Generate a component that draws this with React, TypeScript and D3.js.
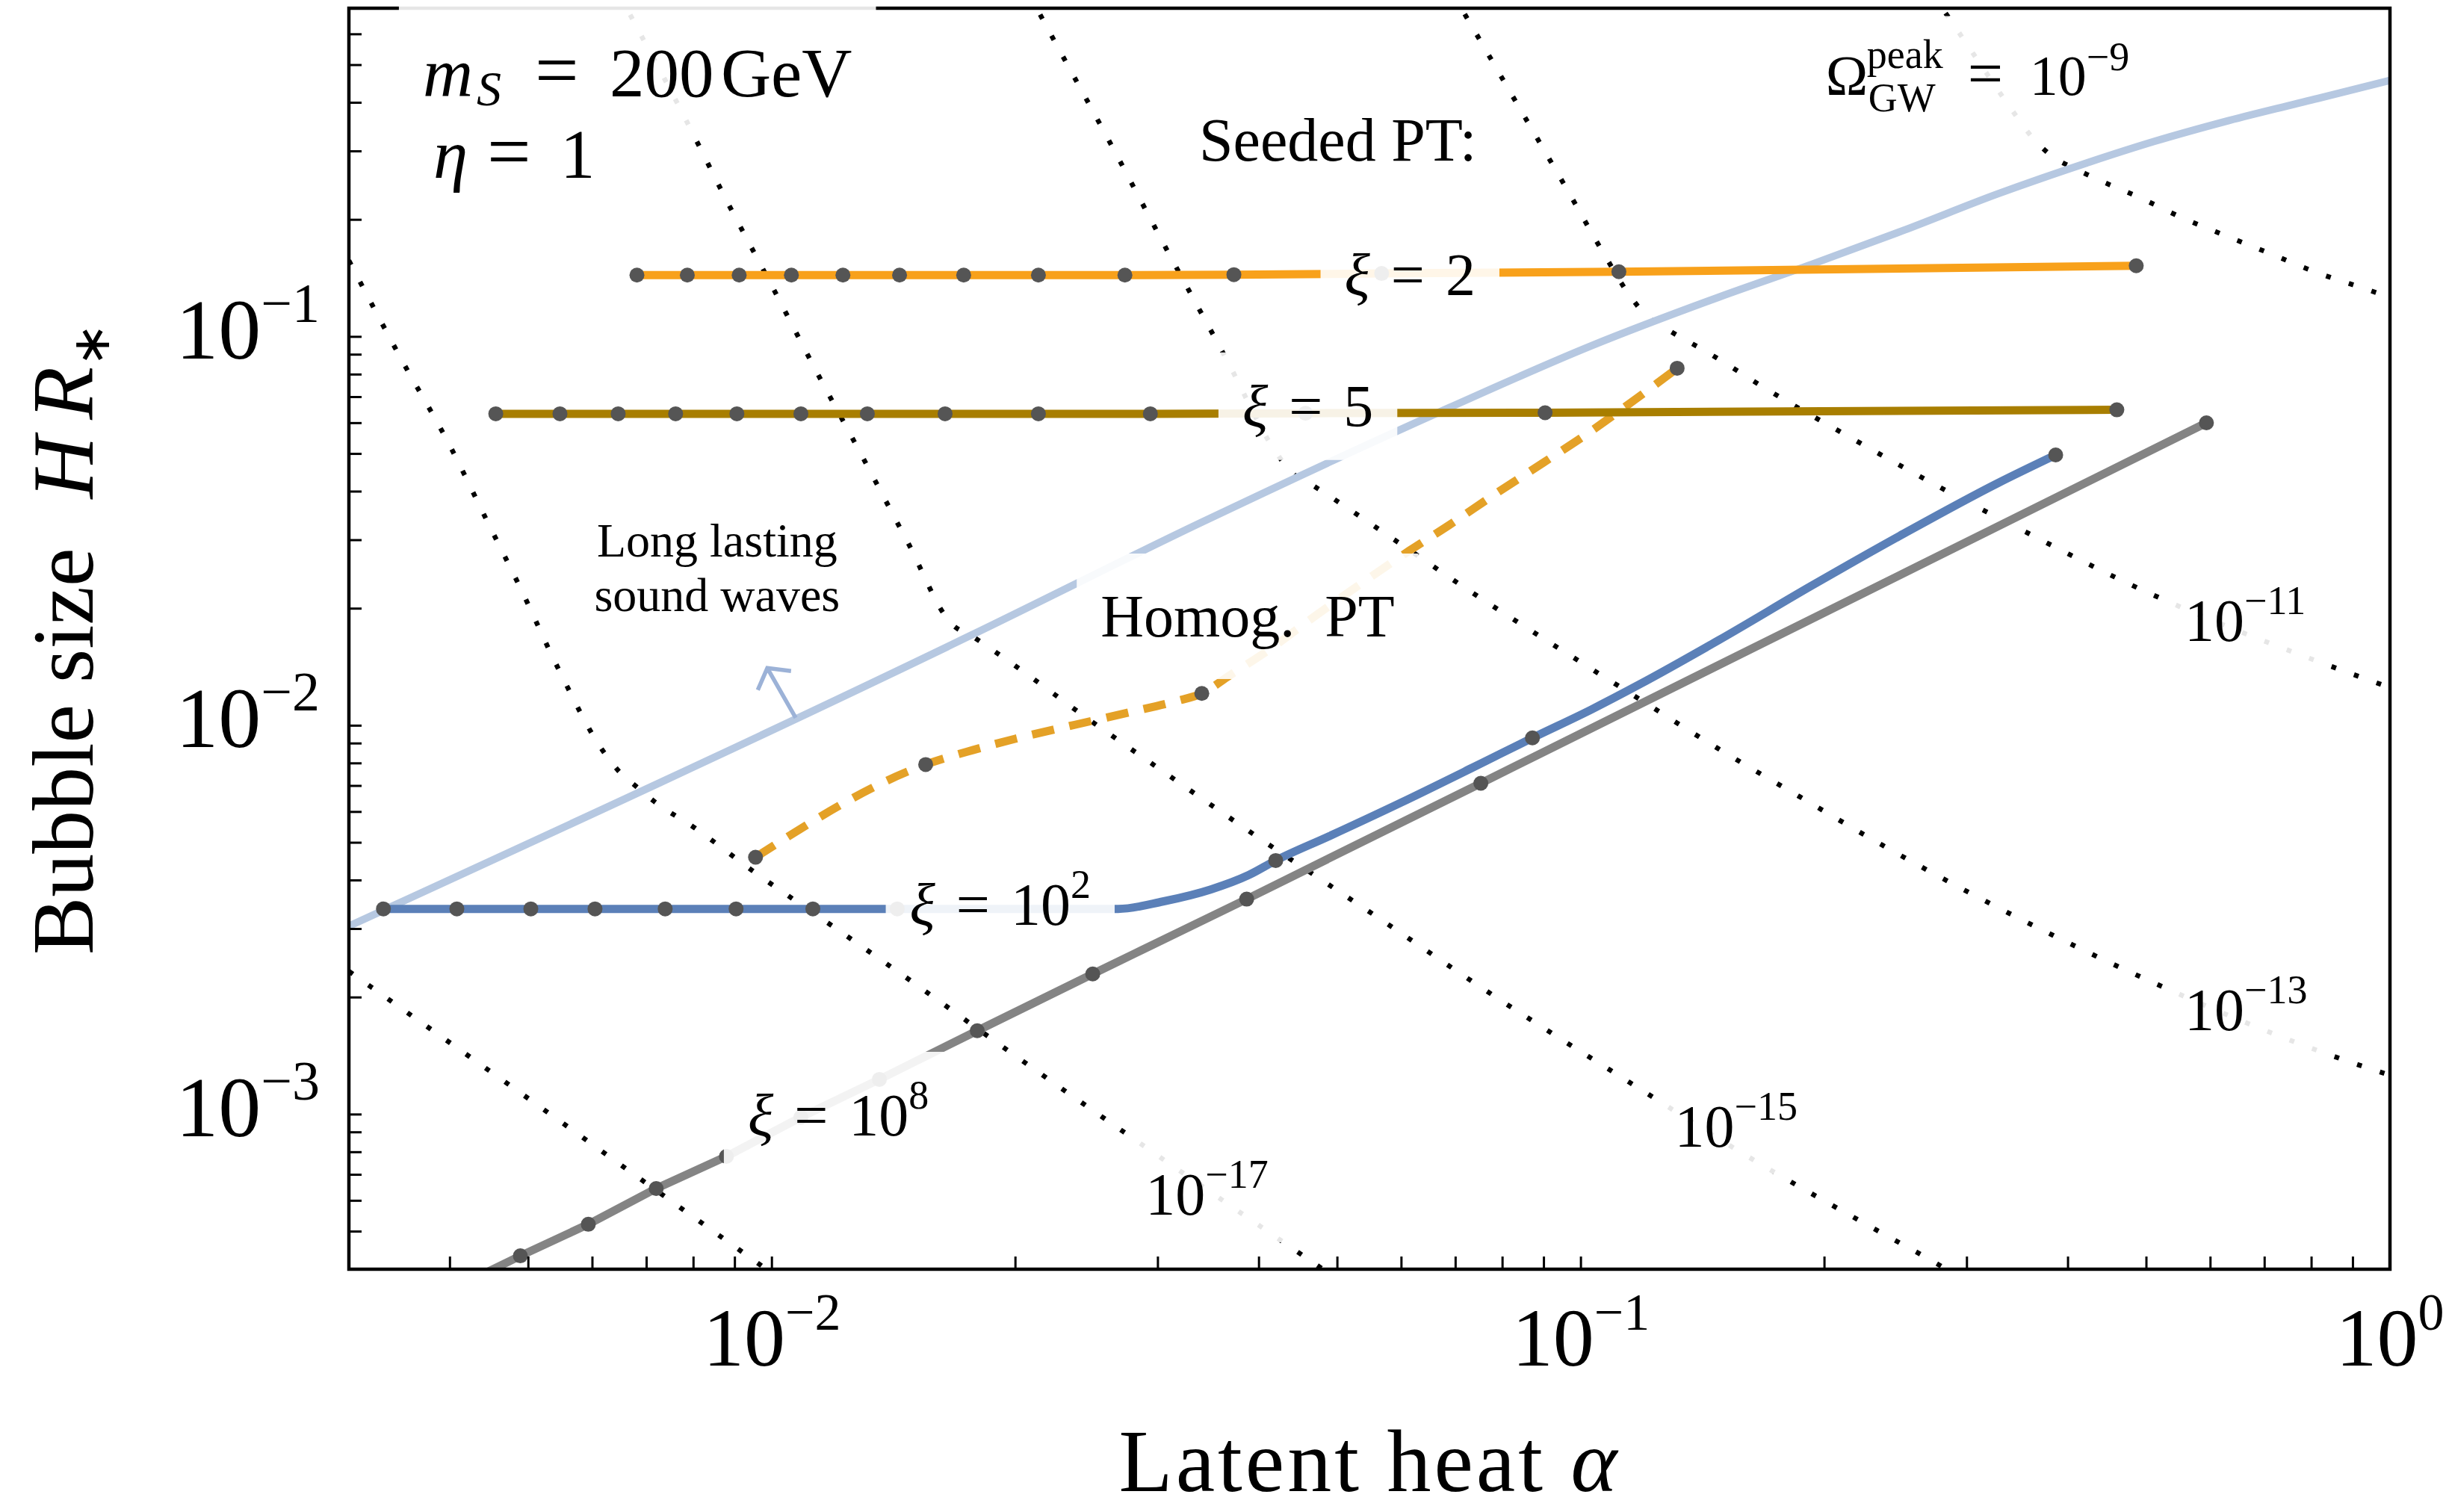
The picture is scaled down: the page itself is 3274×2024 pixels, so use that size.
import { useLayoutEffect, useRef, useState } from 'react'
import * as d3 from 'd3'

// axes ranges (log-log)
const alphaDomain = [0.003, 1]
const sizeDomain = [4e-4, 0.7]

const xLabelTicks = [0.01, 0.1, 1]
const xLabelExps = ['−2', '−1', '0']
const yLabelTicks = [1e-3, 1e-2, 1e-1]
const yLabelExps = ['−3', '−2', '−1']

// seeded PT, xi = 2 : [alpha, H R*], every point has a marker
const xi2 = [
  [0.00681, 0.1441], [0.00786, 0.1441], [0.00911, 0.1441], [0.01057, 0.1441],
  [0.01224, 0.1441], [0.01438, 0.1441], [0.01726, 0.1441], [0.02135, 0.1441],
  [0.02731, 0.1441], [0.03724, 0.1445], [0.05671, 0.1455], [0.1114, 0.147],
  [0.4857, 0.1523],
]

// seeded PT, xi = 5
const xi5 = [
  [0.004557, 0.0634], [0.00547, 0.0634], [0.006456, 0.0634], [0.007603, 0.0634],
  [0.009051, 0.0634], [0.01086, 0.0634], [0.01312, 0.0634], [0.01637, 0.0634],
  [0.02135, 0.0634], [0.02936, 0.0634], [0.04566, 0.0636], [0.0903, 0.0638],
  [0.4596, 0.0649],
]

// seeded PT, xi = 10^2
const xi100Marks = [
  [0.00331, 0.003379], [0.004079, 0.003379], [0.005035, 0.003379], [0.006044, 0.003379],
  [0.00738, 0.003379], [0.00903, 0.003379], [0.011236, 0.003379], [0.014285, 0.003379],
  [0.04195, 0.0045], [0.0871, 0.0093], [0.3862, 0.04968],
]
const xi100Curve = [
  [0.00331, 0.003379], [0.014285, 0.003379], [0.02679, 0.003379], [0.03043, 0.00353],
  [0.03486, 0.00379], [0.03886, 0.00413], [0.04195, 0.0045], [0.04888, 0.0052],
  [0.05993, 0.00634], [0.07347, 0.0078], [0.0871, 0.0093], [0.103, 0.011],
  [0.118, 0.01275], [0.1481, 0.0166], [0.1928, 0.0229], [0.2508, 0.0312],
  [0.3272, 0.042], [0.3862, 0.04968],
]

// seeded PT, xi = 10^8
const xi1e8Marks = [
  [0.004887, 0.000433], [0.00593, 0.000522], [0.007194, 0.000645], [0.008785, 0.00078],
  [0.01086, 0.000984], [0.013578, 0.001231], [0.01794, 0.001642], [0.02492, 0.002298],
  [0.03862, 0.00358], [0.07521, 0.00711], [0.5931, 0.0601],
]
const xi1e8Start = [0.004, 0.000353]

// homogeneous PT (dashed)
const homogMarks = [
  [0.009544, 0.004587], [0.01549, 0.007943], [0.03399, 0.0121], [0.1315, 0.08302],
]
const homogCurve = [
  [0.009544, 0.004587], [0.01549, 0.007943], [0.01771, 0.00865], [0.01998, 0.00925],
  [0.02368, 0.01005], [0.02766, 0.01082], [0.03169, 0.01158], [0.03399, 0.0121],
  [0.03677, 0.01345], [0.04097, 0.01557], [0.04694, 0.01915], [0.05448, 0.02381],
  [0.06136, 0.02818], [0.06868, 0.03277], [0.07866, 0.03963], [0.08992, 0.04751],
  [0.1017, 0.05623], [0.1163, 0.06865], [0.1315, 0.08302],
]

// boundary of long lasting sound waves
const longLasting = [
  [0.003, 0.003052], [0.01763, 0.01708], [0.03384, 0.03321], [0.06868, 0.06568],
  [0.103, 0.09482], [0.1481, 0.1265], [0.1928, 0.1536], [0.2508, 0.188],
  [0.3272, 0.233], [0.4257, 0.2818], [0.5122, 0.3185], [0.6322, 0.36],
  [0.8225, 0.4124], [1.0, 0.4567],
]
const arrowFrom = [0.0107, 0.01048]
const arrowTo = [0.00987, 0.01406]

// Omega_GW^peak contours
const omega9 = [
  [0.2715, 0.7634], [0.2869, 0.6479], [0.3102, 0.5101], [0.3356, 0.4017], [0.3645, 0.319],
  [0.3828, 0.2907], [0.408, 0.2708], [0.4321, 0.2557], [0.4909, 0.2279], [0.5541, 0.2022],
  [0.6306, 0.181], [0.7164, 0.1627], [0.8121, 0.1463], [0.9264, 0.1334], [1.0235, 0.1242],
]
const omega11 = [
  [0.0694, 0.7634], [0.0727, 0.6479], [0.08384, 0.3896], [0.09625, 0.2381], [0.107, 0.1621],
  [0.1151, 0.127], [0.1203, 0.1137], [0.1274, 0.105], [0.1435, 0.0911], [0.1708, 0.07272],
  [0.2172, 0.05452], [0.2754, 0.04143], [0.3606, 0.03093], [0.4604, 0.02392],
  [0.8673, 0.01394], [1.0235, 0.01232],
]
const omega13 = [
  [0.02077, 0.7634], [0.02185, 0.6283], [0.02635, 0.3079], [0.03096, 0.1635], [0.03646, 0.08757],
  [0.04184, 0.05101], [0.04385, 0.04486], [0.04634, 0.04181], [0.05817, 0.03052],
  [0.07287, 0.0222], [0.09185, 0.01628], [0.1163, 0.01194], [0.1469, 0.008795],
  [0.1863, 0.006568], [0.2359, 0.004926], [0.3005, 0.003741], [0.3828, 0.002893],
  [0.4918, 0.002259], [0.8673, 0.001393], [1.0235, 0.001242],
]
const omega15 = [
  [0.006471, 0.7634], [0.00661, 0.7018], [0.00778, 0.3708], [0.008802, 0.2229], [0.01, 0.1351],
  [0.01136, 0.0812], [0.01296, 0.04882], [0.01469, 0.02985], [0.01668, 0.01826],
  [0.01771, 0.01694], [0.01887, 0.0155], [0.02108, 0.01316], [0.02353, 0.01112],
  [0.02942, 0.008013], [0.03936, 0.005262], [0.05564, 0.003248], [0.078, 0.002021],
  [0.1148, 0.00121], [0.1631, 0.000766], [0.2324, 0.000503], [0.2778, 0.000409],
  [0.3049, 0.000363],
]
const omega17 = [
  [0.003, 0.1571], [0.003487, 0.08718], [0.003987, 0.05309], [0.004472, 0.03277],
  [0.004898, 0.02239], [0.005434, 0.01413], [0.006175, 0.008642], [0.006457, 0.007665],
  [0.006808, 0.006955], [0.007148, 0.006393], [0.008035, 0.005451], [0.009463, 0.004234],
  [0.01188, 0.003052], [0.01488, 0.0022], [0.0192, 0.001503], [0.02265, 0.001178],
  [0.02838, 0.000849], [0.04211, 0.0004817], [0.05122, 0.0003642],
]
const omega19 = [
  [0.003, 0.002335], [0.004887, 0.001137], [0.00749, 0.0006009], [0.009874, 0.000398],
  [0.01064, 0.000356],
]
const contours = [omega9, omega11, omega13, omega15, omega17, omega19]

const contourLabelExps = ['−11', '−13', '−15', '−17']
const contourLabelAt = [[0.6622, 0.01851], [0.6637, 0.001851], [0.1555, 0.000928], [0.03449, 0.00062]]

const xiLabelMain = ['2', '5', '10', '10']
const xiLabelSup = ['', '', '2', '8']
const xiLabelAt = [[0.06147, 0.1444], [0.04597, 0.0663], [0.01915, 0.00347], [0.01208, 0.000995]]

const serif = '"Liberation Serif", "Times New Roman", serif'

function Boxed({ children, padX = 32, padY = 28 }: any) {
  const ref = useRef<SVGGElement>(null)
  const [box, setBox] = useState<any>(null)
  useLayoutEffect(() => {
    if (ref.current) {
      const b = ref.current.getBBox()
      setBox({ x: b.x, y: b.y, w: b.width, h: b.height })
    }
  }, [])
  return (
    <g>
      {box && (
        <rect x={box.x - padX} y={box.y - padY} width={box.w + 2 * padX} height={box.h + 2 * padY}
          fill="#fff" fillOpacity={0.9} />
      )}
      <g ref={ref}>{children}</g>
    </g>
  )
}

function App() {
  const width = 3274
  const height = 2024
  const left = 467
  const right = 3199
  const top = 11
  const bottom = 1699

  const x = d3.scaleLog().domain(alphaDomain).range([left, right])
  const y = d3.scaleLog().domain(sizeDomain).range([bottom, top])
  const straight = d3.line<number[]>().x(d => x(d[0])).y(d => y(d[1]))
  const smooth = d3.line<number[]>().x(d => x(d[0])).y(d => y(d[1])).curve(d3.curveMonotoneX)

  const xTicks = x.ticks().filter(v => x(v) > left + 2 && x(v) < right - 2)
  const yTicks = y.ticks().filter(v => y(v) < bottom - 2 && y(v) > top + 2)
  const tickLen = 17

  const fx = (f: number) => left + f * (right - left)
  const fy = (f: number) => top + f * (bottom - top)

  // arrow from the boundary line
  const ax0 = x(arrowFrom[0]), ay0 = y(arrowFrom[1])
  const ax1 = x(arrowTo[0]), ay1 = y(arrowTo[1])
  const back = Math.atan2(ay0 - ay1, ax0 - ax1)
  const head = 32
  const spread = 0.93
  const arrowPath = `M${ax0},${ay0}L${ax1},${ay1}` +
    `M${ax1 + head * Math.cos(back + spread)},${ay1 + head * Math.sin(back + spread)}` +
    `L${ax1},${ay1}L${ax1 + head * Math.cos(back - spread)},${ay1 + head * Math.sin(back - spread)}`

  const xi1e8Curve = [xi1e8Start, ...xi1e8Marks]
  const marks = [...xi2, ...xi5, ...xi100Marks, ...xi1e8Marks, ...homogMarks]

  const ox = x(0.2007)
  const oy = y(0.4181)
  const xiSize = 80
  const eqGap = 28

  return (
    <svg width={width} height={height} style={{ position: 'absolute', left: 0, top: 0 }}
      fontFamily={serif}>
      <rect width={width} height={height} fill="#fff" />
      <defs>
        <clipPath id="plot-area">
          <rect x={left} y={top} width={right - left} height={bottom - top} />
        </clipPath>
      </defs>

      <g clipPath="url(#plot-area)">
        {contours.map((c, i) => (
          <path key={i} d={smooth(c as any) || ''} fill="none" stroke="#000"
            strokeWidth={6.5} strokeDasharray="6.5 25.5" />
        ))}
        <path d={smooth(longLasting as any) || ''} fill="none" stroke="#b6c8e1" strokeWidth={10} />
        <path d={arrowPath} fill="none" stroke="#9cb2d7" strokeWidth={5.5} />
        <path d={smooth(homogCurve as any) || ''} fill="none" stroke="#e4a127" strokeWidth={11}
          strokeDasharray="30 21" />
        <path d={straight(xi1e8Curve as any) || ''} fill="none" stroke="#848484" strokeWidth={11} />
        <path d={smooth(xi100Curve as any) || ''} fill="none" stroke="#5b80b8" strokeWidth={11} />
        <path d={straight(xi5 as any) || ''} fill="none" stroke="#a87e00" strokeWidth={11} />
        <path d={straight(xi2 as any) || ''} fill="none" stroke="#f8a11b" strokeWidth={11} />
        {marks.map((d, i) => (
          <circle key={i} cx={x(d[0])} cy={y(d[1])} r={10} fill="#555" />
        ))}
      </g>

      {/* frame and ticks */}
      <rect x={left} y={top} width={right - left} height={bottom - top} fill="none" stroke="#000"
        strokeWidth={4.5} />
      {xTicks.map(v => (
        <line key={v} x1={x(v)} x2={x(v)} y1={bottom} y2={bottom - tickLen} stroke="#000" strokeWidth={3} />
      ))}
      {yTicks.map(v => (
        <line key={v} x1={left} x2={left + tickLen} y1={y(v)} y2={y(v)} stroke="#000" strokeWidth={3} />
      ))}
      {xLabelTicks.map((v, i) => (
        <text key={v} x={x(v)} y={bottom + 129} textAnchor="middle" fontSize={110}>
          10<tspan dy={-48} fontSize={70}>{xLabelExps[i]}</tspan>
        </text>
      ))}
      {yLabelTicks.map((v, i) => (
        <text key={v} x={left - 39} y={y(v) + 29} textAnchor="end" fontSize={114}>
          10<tspan dy={-49} fontSize={74}>{yLabelExps[i]}</tspan>
        </text>
      ))}

      {/* axis titles */}
      <text x={(left + right) / 2} y={1996} textAnchor="middle" fontSize={118} letterSpacing={4}>
        Latent heat <tspan fontStyle="italic">α</tspan>
      </text>
      <text transform={`translate(124,${(top + bottom) / 2}) rotate(-90)`} textAnchor="middle" fontSize={116}>
        Bubble size<tspan dx={66} fontStyle="italic">H</tspan><tspan dx={22} fontStyle="italic">R</tspan>
        <tspan fontSize={70} dy={22}>∗</tspan>
      </text>

      {/* annotations */}
      <Boxed>
        <text x={fx(0.0362)} y={fy(0.0699)} fontSize={93} fontStyle="italic">m</text>
        <text x={fx(0.0362) + 72} y={fy(0.0699) + 12} fontSize={66} fontStyle="italic">S</text>
        <text x={fx(0.0362) + 150} y={fy(0.0699)} fontSize={104}>=</text>
        <text x={fx(0.0362) + 250} y={fy(0.0699)} fontSize={93}>200</text>
        <text x={fx(0.0362) + 399} y={fy(0.0699)} fontSize={93}>GeV</text>
      </Boxed>
      <g>
        <text x={fx(0.0414)} y={fy(0.1345)} fontSize={93} fontStyle="italic">η</text>
        <text x={fx(0.0414) + 72} y={fy(0.1345)} fontSize={104}>=</text>
        <text x={fx(0.0414) + 170} y={fy(0.1345)} fontSize={93}>1</text>
      </g>
      <text x={fx(0.4165)} y={fy(0.1209)} fontSize={82}>Seeded PT:</text>
      <text x={fx(0.1804)} y={fy(0.4348)} fontSize={64} textAnchor="middle">Long lasting</text>
      <text x={fx(0.1804)} y={fy(0.4781)} fontSize={64} textAnchor="middle">sound waves</text>
      <Boxed padY={40}>
        <text x={fx(0.4403)} y={fy(0.4982)} fontSize={80} textAnchor="middle" style={{ whiteSpace: 'pre' }}>
          {'Homog.  PT'}
        </text>
      </Boxed>

      {xiLabelAt.map((p, i) => (
        <Boxed key={'xi' + i}>
          <text x={x(p[0])} y={y(p[1]) + 27} fontSize={xiSize} textAnchor="middle">
            <tspan fontStyle="italic">ξ</tspan>
            <tspan dx={eqGap}>=</tspan>
            <tspan dx={eqGap}>{xiLabelMain[i]}</tspan>
            {xiLabelSup[i] && <tspan dy={-36} fontSize={54}>{xiLabelSup[i]}</tspan>}
          </text>
        </Boxed>
      ))}

      {contourLabelAt.map((p, i) => (
        <Boxed key={'c' + i} padX={26} padY={20}>
          <text x={x(p[0])} y={y(p[1]) + 26} fontSize={80} textAnchor="middle">
            10<tspan dy={-36} fontSize={54}>{contourLabelExps[i]}</tspan>
          </text>
        </Boxed>
      ))}

      <Boxed padX={28} padY={22}>
        <text x={ox} y={oy} fontSize={76}>Ω</text>
        <text x={ox + 55} y={oy - 36} fontSize={54}>peak</text>
        <text x={ox + 57} y={oy + 22} fontSize={54}>GW</text>
        <text x={ox + 190} y={oy} fontSize={84}>=</text>
        <text x={ox + 273} y={oy} fontSize={76}>
          10<tspan dy={-33} fontSize={54}>−9</tspan>
        </text>
      </Boxed>
    </svg>
  )
}

export default App
